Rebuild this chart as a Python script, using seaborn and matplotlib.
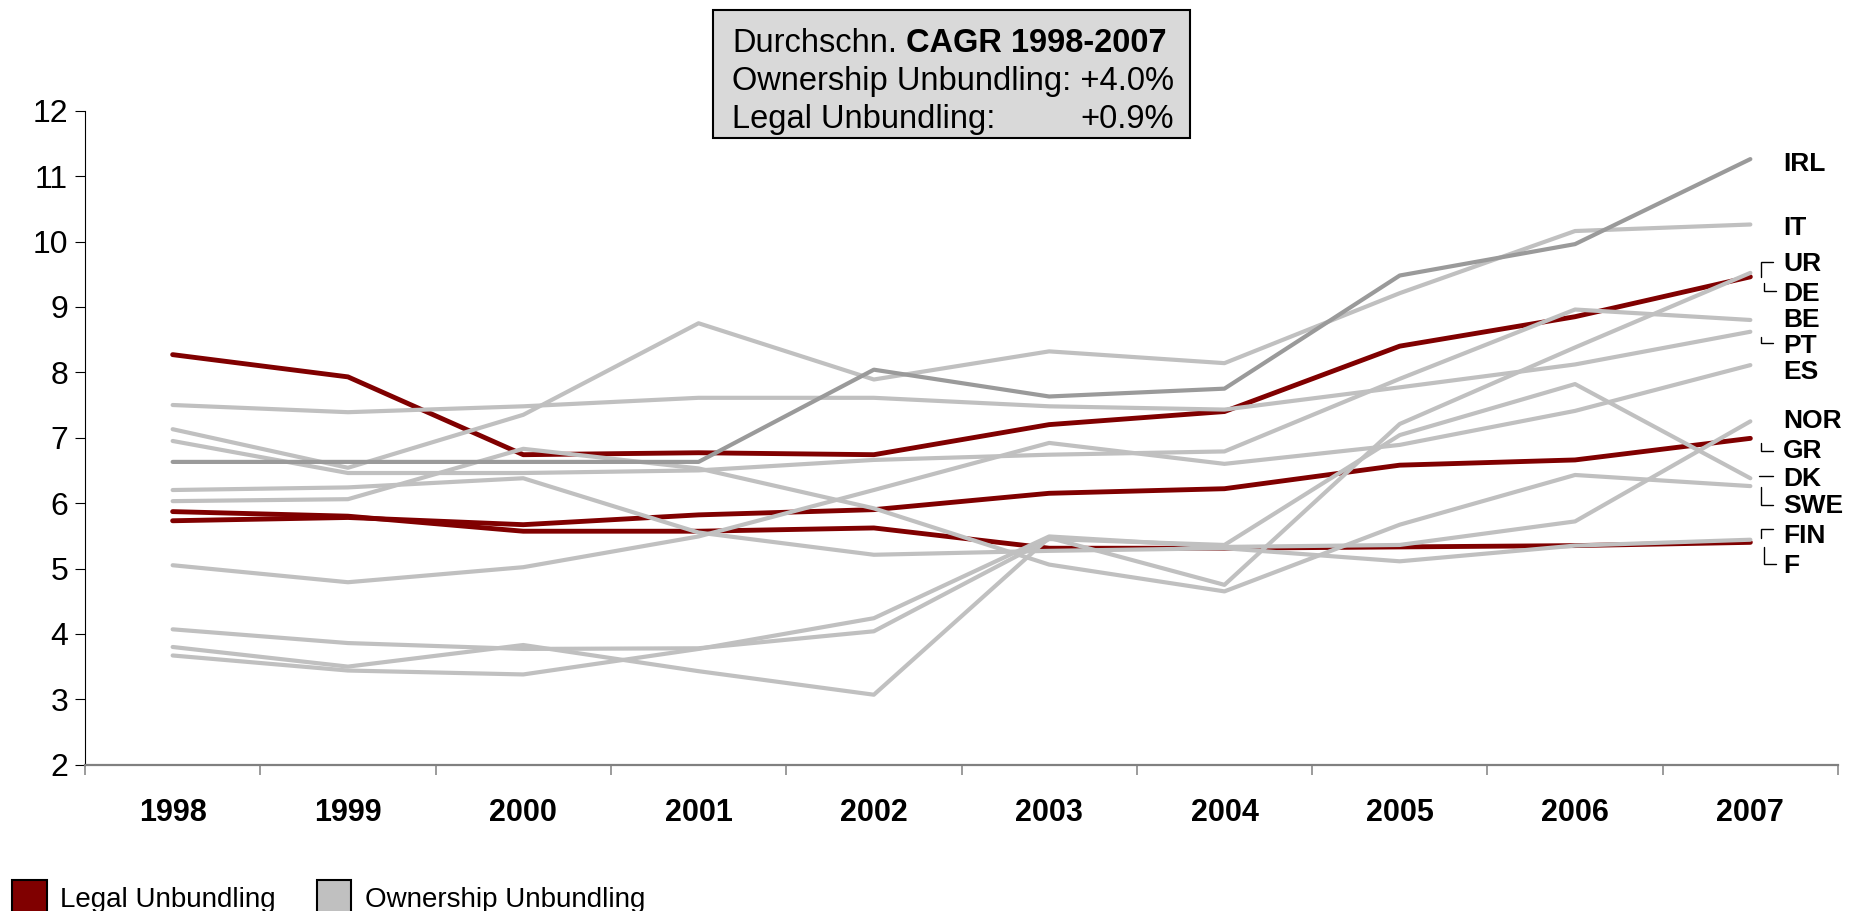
import matplotlib
matplotlib.use("Agg")
import numpy as np
import pandas as pd
import matplotlib.pyplot as plt
import seaborn as sns
from matplotlib.patches import Rectangle
from matplotlib.lines import Line2D
from matplotlib.ticker import FixedLocator
from matplotlib.transforms import offset_copy

# ---------------------------------------------------------------- data
years = [1998, 1999, 2000, 2001, 2002, 2003, 2004, 2005, 2006, 2007]

# Legal Unbundling
de = [8.27, 7.93, 6.74, 6.77, 6.74, 7.20, 7.40, 8.40, 8.85, 9.46]
gr = [5.73, 5.78, 5.67, 5.82, 5.90, 6.15, 6.22, 6.58, 6.66, 6.99]
fr = [5.87, 5.80, 5.57, 5.57, 5.62, 5.31, 5.31, 5.33, 5.35, 5.40]

# Ownership Unbundling
irl = [6.63, 6.63, 6.63, 6.63, 8.04, 7.63, 7.75, 9.48, 9.96, 11.26]
it = [7.13, 6.54, 7.35, 8.75, 7.89, 8.32, 8.14, 9.21, 10.16, 10.26]
ur = [3.80, 3.50, 3.83, 3.43, 3.07, 5.47, 4.75, 7.21, 8.38, 9.52]
be = [6.95, 6.46, 6.46, 6.50, 6.66, 6.74, 6.79, 7.90, 8.96, 8.80]
pt = [7.50, 7.39, 7.48, 7.61, 7.61, 7.48, 7.43, 7.77, 8.12, 8.62]
es = [5.05, 4.79, 5.02, 5.49, 6.20, 6.92, 6.60, 6.89, 7.41, 8.11]
nor = [3.67, 3.44, 3.38, 3.77, 4.24, 5.49, 5.33, 5.36, 5.72, 7.25]
dk = [4.07, 3.86, 3.77, 3.78, 4.04, 5.45, 5.36, 7.04, 7.82, 6.38]
swe = [6.03, 6.06, 6.83, 6.53, 5.92, 5.06, 4.65, 5.67, 6.43, 6.26]
fin = [6.20, 6.24, 6.38, 5.55, 5.21, 5.27, 5.31, 5.11, 5.35, 5.44]

legal = {"DE": de, "GR": gr, "F": fr}
ownership = {"IT": it, "UR": ur, "BE": be, "PT": pt, "ES": es,
             "NOR": nor, "DK": dk, "SWE": swe, "FIN": fin}
highlight = {"IRL": irl}

end_labels = ["IRL", "IT", "UR", "DE", "BE", "PT", "ES",
              "NOR", "GR", "DK", "SWE", "FIN", "F"]
y_ticks = [2, 3, 4, 5, 6, 7, 8, 9, 10, 11, 12]

legend_labels = ["Legal Unbundling", "Ownership Unbundling"]
box_title_regular = "Durchschn."
box_title_bold = "CAGR 1998-2007"
box_line2 = "Ownership Unbundling: +4.0%"
box_line3_left = "Legal Unbundling:"
box_line3_right = "+0.9%"

# ---------------------------------------------------------------- styling
RED = "#800000"
LIGHT = "#c0c0c0"
DARK = "#9a9a9a"

sns.set_style("white")
plt.rcParams["font.family"] = ["Liberation Sans", "DejaVu Sans"]
plt.rcParams["text.color"] = "black"
plt.rcParams["xtick.color"] = "black"
plt.rcParams["ytick.color"] = "black"

W, H = 1856, 911
fig = plt.figure(figsize=(W / 100, H / 100), dpi=100)


def fx(px):
    return px / W


def fy(py):
    return 1 - py / H


ax_l, ax_r, ax_t, ax_b = 85, 1838, 110.7, 764.7
ax = fig.add_axes([fx(ax_l), fy(ax_b), (ax_r - ax_l) / W, (ax_b - ax_t) / H])


def long_frame(series, group):
    rows = []
    for name, vals in series.items():
        for yr, v in zip(years, vals):
            rows.append((name, group, yr, v))
    return pd.DataFrame(rows, columns=["Land", "Gruppe", "Jahr", "Wert"])


df_legal = long_frame(legal, "Legal Unbundling")
df_own = long_frame(ownership, "Ownership Unbundling")
df_irl = long_frame(highlight, "Ownership Unbundling")

common = dict(x="Jahr", y="Wert", hue="Land", legend=False, ax=ax,
              estimator=None, sort=False)
sns.lineplot(data=df_legal, palette={k: RED for k in legal},
             linewidth=3.5, solid_capstyle="round", **common)
sns.lineplot(data=df_own, palette={k: LIGHT for k in ownership},
             linewidth=3.0, solid_capstyle="round", **common)
sns.lineplot(data=df_irl, palette={"IRL": DARK},
             linewidth=3.0, solid_capstyle="round", **common)

ax.set_xlim(years[0] - 0.5, years[-1] + 0.5)
ax.set_ylim(min(y_ticks), max(y_ticks))
ax.set_xlabel("")
ax.set_ylabel("")

for side in ("top", "right"):
    ax.spines[side].set_visible(False)
ax.spines["left"].set_color("black")
ax.spines["left"].set_linewidth(0.8)
ax.spines["bottom"].set_color("#808080")
ax.spines["bottom"].set_linewidth(1.6)

ax.yaxis.set_major_locator(FixedLocator(y_ticks))
ax.set_yticklabels([str(t) for t in y_ticks])
ax.tick_params(axis="y", which="major", direction="out", length=7.2,
               width=0.8, color="black", labelsize=23, pad=5,
               left=True, labelcolor="black")

ax.xaxis.set_major_locator(FixedLocator(years))
ax.set_xticklabels([str(y) for y in years], fontweight="bold")
ax.xaxis.set_minor_locator(FixedLocator([y - 0.5 for y in years] + [years[-1] + 0.5]))
ax.tick_params(axis="x", which="major", length=0, labelsize=22, pad=24,
               bottom=True, labelcolor="black")
ax.tick_params(axis="x", which="minor", direction="out", length=7.2,
               width=1.1, color="#808080", bottom=True)
ax.grid(False)

# ---------------------------------------------------------------- end labels
label_pos_y = [11.22, 10.25, 9.69, 9.24, 8.84, 8.44, 8.04,
               7.30, 6.84, 6.40, 6.00, 5.54, 5.08]
label_fs = 19
lbl_trans = offset_copy(ax.transData, fig=fig, x=0, y=-0.358 * label_fs,
                        units="points")
label_x = years[0] - 0.5 + (1783 - ax_l) / ((ax_r - ax_l) / len(years))
for txt, yv in zip(end_labels, label_pos_y):
    ax.text(label_x, yv, txt, fontsize=label_fs, fontweight="bold",
            ha="left", va="baseline", transform=lbl_trans, clip_on=False,
            color="black")

# connector brackets next to the end labels (pixel coordinates)
brackets = [
    [(1773, 262), (1761, 262), (1761, 277)],
    [(1764, 283), (1764, 291), (1776, 291)],
    [(1761, 337), (1761, 343), (1773, 343)],
    [(1761, 443), (1761, 451), (1773, 451)],
    [(1759, 476), (1773, 476)],
    [(1761, 487), (1761, 505), (1773, 505)],
    [(1773, 529), (1761, 529), (1761, 538)],
    [(1764, 547), (1764, 564), (1776, 564)],
]
for pts in brackets:
    xs = [fx(p[0]) for p in pts]
    ys = [fy(p[1]) for p in pts]
    fig.add_artist(Line2D(xs, ys, transform=fig.transFigure, color="black",
                          linewidth=1.0, solid_joinstyle="miter"))

# ---------------------------------------------------------------- CAGR box
bx0, by0, bx1, by1 = 713, 10, 1190, 138
fig.add_artist(Rectangle((fx(bx0), fy(by1)), (bx1 - bx0) / W, (by1 - by0) / H,
                         transform=fig.transFigure, facecolor="#d9d9d9",
                         edgecolor="black", linewidth=1.5))
box_fs = 23.5
tx_l, tx_r = 732, 1174
t_reg = fig.text(fx(tx_l), fy(52), box_title_regular, fontsize=box_fs,
                 ha="left", va="baseline")
fig.canvas.draw()
reg_right = t_reg.get_window_extent(fig.canvas.get_renderer()).x1
space_px = 0.278 * box_fs * fig.dpi / 72
fig.text((reg_right + space_px) / W, fy(52), box_title_bold, fontsize=box_fs,
         fontweight="bold", ha="left", va="baseline")
fig.text(fx(tx_l), fy(90), box_line2, fontsize=box_fs, ha="left", va="baseline")
fig.text(fx(tx_l), fy(128), box_line3_left, fontsize=box_fs,
         ha="left", va="baseline")
fig.text(fx(tx_r), fy(128), box_line3_right, fontsize=box_fs,
         ha="right", va="baseline")

# ---------------------------------------------------------------- legend
legend_colors = [RED, LIGHT]
sq_x = [12.5, 317]
txt_x = [60, 365.5]
sq_top, sq_size = 880, 34
for lab, col, sx, tx in zip(legend_labels, legend_colors, sq_x, txt_x):
    fig.add_artist(Rectangle((fx(sx), fy(sq_top + sq_size)), sq_size / W,
                             sq_size / H, transform=fig.transFigure,
                             facecolor=col, edgecolor="black", linewidth=1.5))
    fig.text(fx(tx), fy(907), lab, fontsize=20, ha="left", va="baseline")

fig.savefig("out.png", dpi=100)
